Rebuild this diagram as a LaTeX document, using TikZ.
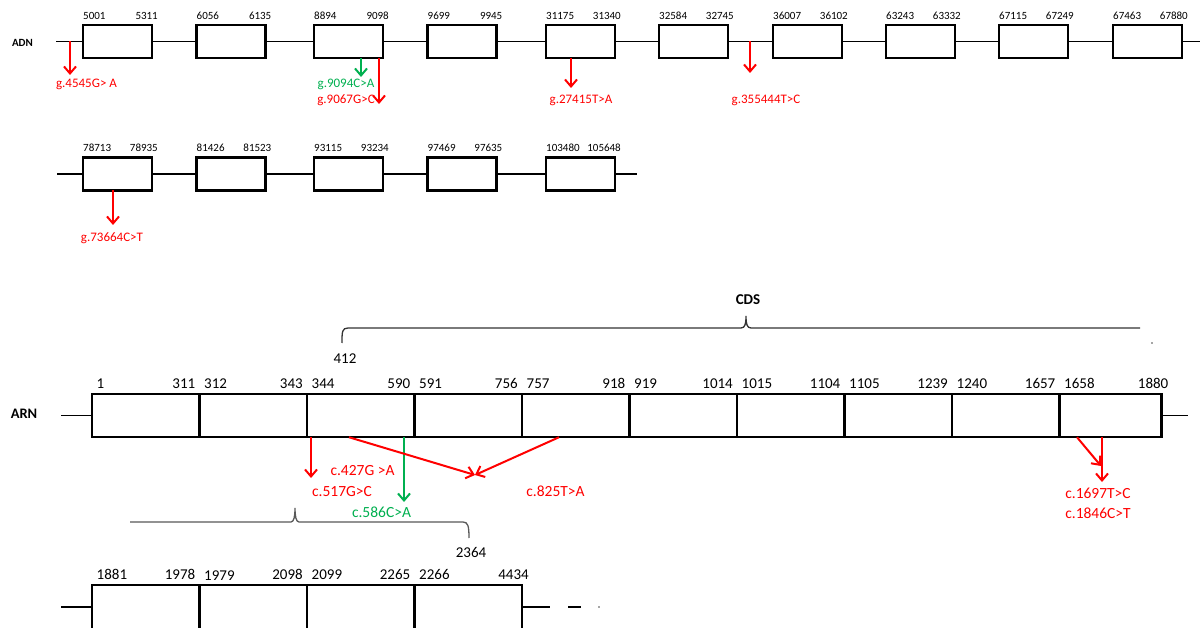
\documentclass[tikz,border=0pt]{standalone}
\usepackage{fontspec}
\setmainfont{Carlito}
\usepackage{tikz}
\usetikzlibrary{arrows.meta,positioning,calc}

\definecolor{mutred}{HTML}{FF0000}
\definecolor{mutgreen}{HTML}{00B050}

\begin{document}
\begin{tikzpicture}[
  x=1pt,y=-1pt,
  node distance=0pt,
  exon/.style={rectangle,draw,line width=2.3pt,fill=white,minimum width=69pt,minimum height=33pt,inner sep=0pt,outer sep=0pt},
  seg/.style={rectangle,draw,line width=2.4pt,fill=white,minimum width=107.5pt,minimum height=43.5pt,inner sep=0pt,outer sep=0pt},
  gnum/.style={font=\fontsize{11}{13}\selectfont,inner sep=0pt,yshift=5.5pt},
  gl/.style={gnum,anchor=south west},
  gr/.style={gnum,anchor=south east,xshift=6pt},
  cnum/.style={font=\fontsize{15}{17}\selectfont,inner sep=0pt,yshift=5pt},
  cl/.style={cnum,anchor=south west,xshift=4.5pt},
  cr/.style={cnum,anchor=south east,xshift=-4pt},
  ce/.style={cnum,anchor=south east,xshift=7pt},
  gmut/.style={font=\fontsize{13}{15}\selectfont,inner sep=0pt},
  cmut/.style={font=\fontsize{15.5}{18}\selectfont,inner sep=0pt},
  strand/.style={line width=1.2pt},
  arr/.style={-{Straight Barb[length=7pt,width=12pt]},line width=2pt},
  brace/.style={line width=1.3pt,black!80}
]
\path[fill=white,use as bounding box] (0,0) rectangle (1200,628);

% ADN, first line
\node[font=\bfseries\fontsize{11}{13}\selectfont] (adn) at (22.5,43) {ADN};
\node[exon,label={[gl]north west:5001},label={[gr]north east:5311}] (e1) at (117.5,41.5) {};
\node[exon,label={[gl]north west:6056},label={[gr]north east:6135}] (e2) at (231,41.5) {};
\node[exon,label={[gl]north west:8894},label={[gr]north east:9098}] (e3) at (348.5,41.5) {};
\node[exon,label={[gl]north west:9699},label={[gr]north east:9945}] (e4) at (462,41.5) {};
\node[exon,label={[gl]north west:31175},label={[gr]north east:31340}] (e5) at (580.5,41.5) {};
\node[exon,label={[gl]north west:32584},label={[gr]north east:32745}] (e6) at (693.5,41.5) {};
\node[exon,label={[gl]north west:36007},label={[gr]north east:36102}] (e7) at (807.5,41.5) {};
\node[exon,label={[gl]north west:63243},label={[gr]north east:63332}] (e8) at (920.5,41.5) {};
\node[exon,label={[gl]north west:67115},label={[gr]north east:67249}] (e9) at (1033.5,41.5) {};
\node[exon,label={[gl]north west:67463},label={[gr]north east:67880}] (e10) at (1147.5,41.5) {};
\coordinate (adnL) at (56,41.5);
\coordinate (adnR) at (1200,41.5);
\draw[strand] (adnL) -- (e1) -- (e2) -- (e3) -- (e4) -- (e5) -- (e6) -- (e7) -- (e8) -- (e9) -- (e10) -- (adnR);

% ADN, second line
\node[exon,label={[gl]north west:78713},label={[gr]north east:78935}] (f1) at (117.5,174) {};
\node[exon,label={[gl]north west:81426},label={[gr]north east:81523}] (f2) at (231,174) {};
\node[exon,label={[gl]north west:93115},label={[gr]north east:93234}] (f3) at (348.5,174) {};
\node[exon,label={[gl]north west:97469},label={[gr]north east:97635}] (f4) at (462,174) {};
\node[exon,label={[gl]north west:103480},label={[gr]north east:105648}] (f5) at (580.5,174) {};
\coordinate (adn2L) at (57,174);
\coordinate (adn2R) at (637,174);
\draw[strand] (adn2L) -- (f1) -- (f2) -- (f3) -- (f4) -- (f5) -- (adn2R);

% ADN variants
\coordinate (g1) at (70,41.5);
\coordinate (g1t) at (70,75);
\coordinate (g2t) at (361,77);
\coordinate (g3t) at (379,104);
\coordinate (g4t) at (571,88);
\coordinate (g5) at (750,41.5);
\coordinate (g5t) at (750,73);
\coordinate (g6t) at (113,225);
\draw[arr,mutred] (g1) -- (g1t);
\draw[arr,mutgreen] ([xshift=12.5pt]e3.south) -- (g2t);
\draw[arr,mutred] ([xshift=30.5pt]e3.south) -- (g3t);
\draw[arr,mutred] ([xshift=-9.5pt]e5.south) -- (g4t);
\draw[arr,mutred] (g5) -- (g5t);
\draw[arr,mutred] ([xshift=-4.5pt]f1.south) -- (g6t);
\node[gmut,mutred] (v4545) at (86.5,84) {g.4545G> A};
\node[gmut,mutgreen] (v9094) at (346,84) {g.9094C>A};
\node[gmut,mutred] (v9067) at (346,100) {g.9067G>C};
\node[gmut,mutred] (v27415) at (581,100) {g.27415T>A};
\node[gmut,mutred] (v355444) at (766,100) {g.355444T>C};
\node[gmut,mutred] (v73664) at (112,238) {g.73664C>T};

% CDS brace
\node[font=\bfseries\fontsize{15}{17}\selectfont] (cds) at (748,300) {CDS};
\draw[brace] (342,343) .. controls (342,332) and (342,328) .. (348,328) -- (741,328)
  .. controls (745,328) and (746,324) .. (746,316) .. controls (746,324) and (747,328) .. (751,328) -- (1140,328);
\fill[black!70] (1152,343) circle (0.9);
\node[cnum] (n412) at (345,364) {412};

% ARN
\node[font=\bfseries\fontsize{14.5}{17}\selectfont] (arn) at (24,414) {ARN};
\node[seg,label={[cl]north west:1},label={[cr]north east:311}] (s1) at (145.75,415.5) {};
\node[seg,right=of s1,label={[cl]north west:312},label={[cr]north east:343}] (s2) {};
\node[seg,right=of s2,label={[cl]north west:344},label={[cr]north east:590}] (s3) {};
\node[seg,right=of s3,label={[cl]north west:591},label={[cr]north east:756}] (s4) {};
\node[seg,right=of s4,label={[cl]north west:757},label={[cr]north east:918}] (s5) {};
\node[seg,right=of s5,label={[cl]north west:919},label={[cr]north east:1014}] (s6) {};
\node[seg,right=of s6,label={[cl]north west:1015},label={[cr]north east:1104}] (s7) {};
\node[seg,right=of s7,label={[cl]north west:1105},label={[cr]north east:1239}] (s8) {};
\node[seg,right=of s8,label={[cl]north west:1240},label={[cr]north east:1657}] (s9) {};
\node[seg,right=of s9,minimum width=102pt,label={[cl]north west:1658},label={[ce]north east:1880}] (s10) {};
\coordinate (arnL) at (61,415.5);
\coordinate (arnR) at (1188,415.5);
\draw[strand] (arnL) -- (s1);
\draw[strand] (s10) -- (arnR);

% ARN variants
\coordinate (c517t) at (311,478);
\coordinate (c586t) at (404,502);
\coordinate (c825t) at (475,475);
\coordinate (c1697t) at (1101,466);
\coordinate (c1846t) at (1102,482);
\draw[arr,mutred] ([xshift=4pt]s3.south west) -- (c517t);
\draw[arr,mutgreen] ([xshift=97pt]s3.south west) -- (c586t);
\draw[arr,mutred] ([xshift=42pt]s3.south west) -- (c825t);
\draw[arr,mutred] ([xshift=37pt]s5.south west) -- (c825t);
\draw[arr,mutred] ([xshift=17.5pt]s10.south west) -- (c1697t);
\draw[arr,mutred] ([xshift=42.5pt]s10.south west) -- (c1846t);
\node[cmut,mutred] (v427) at (362.5,471) {c.427G >A};
\node[cmut,mutred] (v517) at (342,492) {c.517G>C};
\node[cmut,mutgreen] (v586) at (381.5,512) {c.586C>A};
\node[cmut,mutred] (v825) at (555.5,491) {c.825T>A};
\node[cmut,mutred] (v1697) at (1098,493) {c.1697T>C};
\node[cmut,mutred] (v1846) at (1098,513) {c.1846C>T};

% lower brace
\draw[brace,black!65] (130,522) -- (291,522) .. controls (294,522) and (295,516) .. (295,508)
  .. controls (295,516) and (296,522) .. (299,522) -- (463,522) .. controls (468,522) and (469,526) .. (469,538);
\node[cnum] (n2364) at (471,557) {2364};

% ARN, second line
\node[seg,label={[cl]north west:1881},label={[cr]north east:1978}] (t1) at (145.75,607) {};
\node[seg,right=of t1,label={[cl]north west:1979},label={[cr]north east:2098}] (t2) {};
\node[seg,right=of t2,label={[cl]north west:2099},label={[cr]north east:2265}] (t3) {};
\node[seg,right=of t3,label={[cl]north west:2266},label={[ce]north east:4434}] (t4) {};
\coordinate (arn2L) at (61,607);
\coordinate (arn2R) at (550,607);
\coordinate (dashL) at (568,607);
\coordinate (dashR) at (581,607);
\draw[strand] (arn2L) -- (t1);
\draw[strand] (t4) -- (arn2R);
\draw[strand] (dashL) -- (dashR);
\fill[black!70] (599,607) circle (0.9);
\end{tikzpicture}
\end{document}
